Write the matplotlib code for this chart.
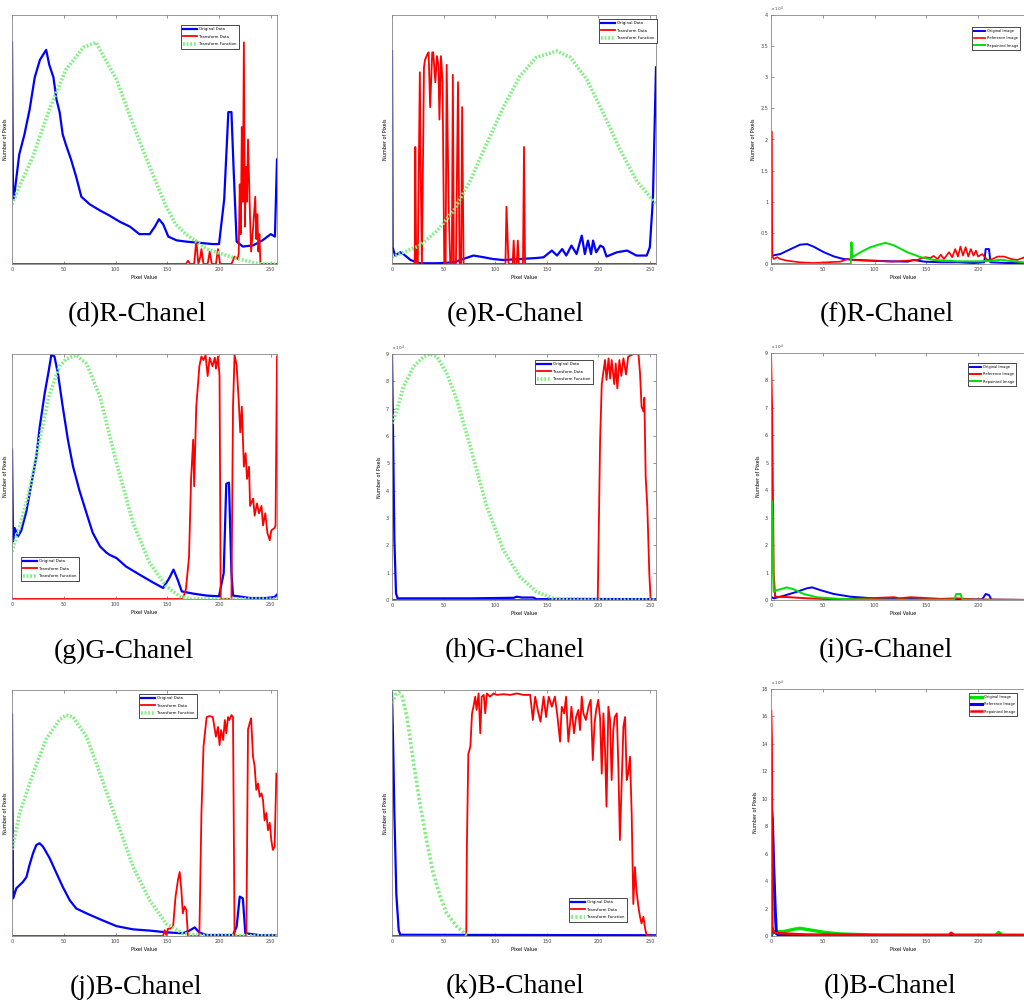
import matplotlib.pyplot as plt

# ---- (d) R-Chanel, normalised height ----
d_blue_x = [0, 1, 2, 7, 12, 17, 22, 27, 30, 33, 36, 40, 43, 46, 49, 52, 57, 62, 67, 75, 85, 94, 104, 114, 123, 133, 138, 142, 146, 151, 159, 168, 181, 194, 200, 205, 209, 212, 214, 217, 223, 233, 242, 250, 254, 256]
d_blue_y = [0.89, 0.26, 0.27, 0.44, 0.52, 0.62, 0.75, 0.82, 0.84, 0.86, 0.80, 0.75, 0.66, 0.61, 0.52, 0.48, 0.42, 0.35, 0.27, 0.24, 0.215, 0.195, 0.17, 0.15, 0.12, 0.12, 0.15, 0.18, 0.16, 0.11, 0.095, 0.09, 0.085, 0.08, 0.08, 0.26, 0.61, 0.61, 0.39, 0.09, 0.07, 0.075, 0.095, 0.12, 0.11, 0.42]
d_red_x = [0, 168, 170, 172, 176, 178, 180, 182, 183, 185, 189, 191, 193, 197, 199, 201, 212, 215, 218, 219, 220, 221, 222, 223, 224, 225, 226, 227, 228, 230, 231, 233, 235, 236, 237, 238, 239, 240, 256]
d_red_y = [0, 0, 0.013, 0, 0, 0.095, 0, 0.03, 0.06, 0, 0, 0.05, 0, 0, 0.06, 0, 0, 0.03, 0.02, 0.04, 0.32, 0.12, 0.55, 0.25, 0.89, 0.15, 0.39, 0.25, 0.5, 0.18, 0.05, 0.15, 0.27, 0.1, 0.2, 0.05, 0.12, 0, 0]
d_green_x = [0, 7, 20, 36, 52, 69, 81, 101, 117, 133, 149, 158, 168, 188, 213, 239, 256]
d_green_y = [0.24, 0.31, 0.43, 0.62, 0.78, 0.87, 0.89, 0.74, 0.56, 0.39, 0.23, 0.16, 0.12, 0.06, 0.027, 0.0, 0.0]

# ---- (e) R-Chanel ----
e_blue_x = [0, 0.6, 3, 8, 11, 18, 27, 44, 60, 69, 79, 89, 98, 108, 124, 140, 147, 155, 160, 165, 169, 174, 179, 184, 187, 190, 193, 195, 198, 202, 205, 208, 218, 228, 237, 247, 250, 253, 256]
e_blue_y = [0.855, 0.067, 0.034, 0.047, 0.04, 0.016, 0.003, 0.003, 0.007, 0.02, 0.034, 0.027, 0.02, 0.016, 0.02, 0.024, 0.027, 0.054, 0.034, 0.06, 0.034, 0.074, 0.04, 0.114, 0.04, 0.094, 0.04, 0.094, 0.047, 0.074, 0.067, 0.03, 0.047, 0.054, 0.034, 0.034, 0.067, 0.26, 0.79]
e_red_x = [0, 22, 22.6, 23.5, 25, 27, 28, 29, 31, 32, 34, 35.5, 37, 39, 40, 42, 43.6, 45, 46, 47.5, 49, 50.7, 52, 53, 55, 56.5, 58, 59, 60, 62, 64, 65.5, 67, 68, 69.4, 110, 111, 113, 117, 118, 119, 121, 122, 123, 127, 128, 129, 256]
e_red_y = [0, 0, 0.47, 0, 0, 0.77, 0.31, 0, 0.79, 0.82, 0.84, 0.85, 0.63, 0.85, 0.85, 0.73, 0.835, 0.80, 0.58, 0.835, 0.73, 0, 0, 0.80, 0.215, 0, 0, 0.76, 0, 0, 0.73, 0, 0, 0.63, 0, 0, 0.23, 0, 0, 0.094, 0, 0, 0.094, 0, 0, 0.47, 0, 0]
e_green_x = [0, 11, 27, 44, 60, 76, 92, 108, 124, 140, 160, 173, 189, 205, 221, 237, 256]
e_green_y = [0.027, 0.047, 0.074, 0.135, 0.215, 0.336, 0.485, 0.63, 0.754, 0.83, 0.855, 0.83, 0.74, 0.605, 0.46, 0.336, 0.24]

# ---- (f) R-Chanel, x10^4 ----
f_blue_x = [0, 1, 9, 19, 28, 35, 41, 51, 61, 70, 83, 99, 116, 132, 138, 148, 164, 180, 196, 206, 207.4, 210.6, 212, 228, 245, 256]
f_blue_y = [0.108, 0.135, 0.16, 0.24, 0.31, 0.32, 0.28, 0.19, 0.12, 0.08, 0.065, 0.054, 0.043, 0.038, 0.065, 0.038, 0.027, 0.027, 0.016, 0.027, 0.24, 0.24, 0.027, 0.016, 0.016, 0.016]
f_red_x = [0, 0.5, 1.3, 2.6, 6, 9, 15.5, 28, 41, 54, 67, 74, 80, 89.7, 99, 116, 132, 141, 149, 154, 157, 161, 164, 167, 172, 175, 178, 180.6, 183, 185.5, 188, 190.6, 193, 195.6, 198, 200, 204, 209, 214, 219, 225, 232, 238, 245, 256]
f_red_y = [0, 2.13, 0.13, 0.08, 0.11, 0.08, 0.054, 0.027, 0.016, 0.027, 0.038, 0.08, 0.065, 0.054, 0.05, 0.038, 0.054, 0.065, 0.11, 0.097, 0.13, 0.08, 0.15, 0.08, 0.19, 0.108, 0.24, 0.119, 0.28, 0.135, 0.27, 0.119, 0.24, 0.135, 0.215, 0.119, 0.16, 0.065, 0.08, 0.12, 0.12, 0.08, 0.065, 0.11, 0.1]
f_green_x = [0, 77, 77.7, 78.7, 86.5, 96, 106, 110.6, 118.7, 131.6, 144.5, 157, 180, 202.6, 215.5, 222, 228, 244.5, 256]
f_green_y = [0, 0, 0.35, 0.11, 0.19, 0.27, 0.32, 0.34, 0.30, 0.19, 0.11, 0.065, 0.043, 0.043, 0.054, 0.07, 0.054, 0.027, 0.02]

# ---- (g) G-Chanel ----
g_blue_x = [0, 1, 2.6, 5.8, 9, 14, 18.7, 23.5, 26.7, 31.6, 35, 38, 41, 44.4, 49, 54, 59, 65, 72, 78, 85, 91, 94.4, 101, 110, 123, 136, 146, 152, 156, 160, 164, 175, 188, 200, 204.5, 207, 209.6, 212, 213.5, 230, 245.7, 253.7, 256]
g_blue_y = [0.61, 0.235, 0.29, 0.255, 0.28, 0.36, 0.47, 0.58, 0.70, 0.84, 0.92, 0.996, 0.99, 0.92, 0.785, 0.65, 0.54, 0.445, 0.35, 0.27, 0.215, 0.19, 0.18, 0.167, 0.133, 0.10, 0.068, 0.045, 0.086, 0.12, 0.079, 0.031, 0.022, 0.014, 0.011, 0.106, 0.47, 0.475, 0.106, 0.014, 0.004, 0.004, 0.008, 0.018]
g_red_x = [0, 165, 168, 171, 173, 175, 176, 178, 180, 181, 183, 185, 187, 189, 191, 193.6, 196, 197, 199, 200.5, 201.6, 212, 213.5, 215, 217, 219, 220.5, 222, 224, 225.7, 227, 229, 230, 233, 234.4, 236.7, 238.6, 241, 242.5, 244.7, 246.7, 249, 250.5, 253.7, 254.6, 256]
g_red_y = [0, 0, 0.04, 0.17, 0.49, 0.65, 0.46, 0.785, 0.894, 0.95, 0.99, 0.975, 0.995, 0.91, 0.985, 0.95, 0.985, 0.94, 0.99, 0.91, 0, 0, 0.785, 0.995, 0.955, 0.81, 0.68, 0.785, 0.54, 0.595, 0.49, 0.54, 0.38, 0.41, 0.34, 0.39, 0.35, 0.38, 0.30, 0.35, 0.27, 0.24, 0.28, 0.29, 0.30, 0.99]
g_green_x = [0, 7.4, 17, 26.7, 36, 46, 52.5, 62, 72, 85, 101, 117, 133, 149, 162, 173, 256]
g_green_y = [0.194, 0.296, 0.445, 0.65, 0.833, 0.95, 0.98, 0.996, 0.96, 0.826, 0.554, 0.31, 0.147, 0.052, 0.011, 0.0, 0.0]

# ---- (h) G-Chanel, x10^4 ----
h_blue_x = [0, 1, 2.3, 3.9, 5.5, 27, 76, 118, 121, 126, 137, 140, 173, 256]
h_blue_y = [9.0, 6.1, 2.2, 0.24, 0.06, 0.06, 0.06, 0.08, 0.12, 0.09, 0.09, 0.03, 0.04, 0.03]
h_red_x = [0, 199.5, 201.8, 203.4, 205, 206.6, 208, 210, 211.5, 213, 215.5, 217, 218.5, 220.5, 222.4, 224.4, 227, 229, 234, 239, 240.5, 242, 243.8, 244.7, 246, 247.6, 249.5, 250.8, 256]
h_red_y = [0, 0, 5.85, 7.9, 8.35, 8.78, 8.05, 8.84, 8.1, 8.78, 7.9, 8.65, 7.74, 8.78, 8.2, 8.84, 8.25, 8.9, 9.0, 9.0, 8.3, 7.07, 6.9, 7.4, 4.5, 3.4, 0.98, 0.0, 0.0]
h_green_x = [0, 4.8, 11, 21, 30.7, 37, 43.6, 53, 63, 76, 92, 108, 124, 140, 156.6, 173, 256]
h_green_y = [6.46, 6.95, 7.8, 8.54, 8.9, 9.0, 8.9, 8.3, 7.3, 5.6, 3.4, 1.83, 0.85, 0.30, 0.06, 0.0, 0.0]

# ---- (i) G-Chanel, x10^4 ----
i_blue_x = [0, 2.6, 12, 25, 35, 39.7, 47.7, 60.6, 76.8, 99, 131.6, 196, 204, 207.4, 210.6, 213, 256]
i_blue_y = [0.12, 0.06, 0.15, 0.3, 0.43, 0.46, 0.36, 0.22, 0.12, 0.06, 0.04, 0.02, 0.02, 0.22, 0.18, 0.01, 0.0]
i_red_x = [0, 1, 2.6, 4, 18.7, 35, 67, 119, 124, 135, 164, 180, 196, 256]
i_red_y = [9.0, 7.05, 0.97, 0.12, 0.1, 0.06, 0.02, 0.1, 0.06, 0.1, 0.04, 0.06, 0.02, 0.0]
i_green_x = [0, 1, 2.6, 5.8, 15.5, 22, 31.6, 44.5, 67, 99, 177, 179, 183, 185, 256]
i_green_y = [0.0, 3.6, 0.3, 0.36, 0.46, 0.39, 0.22, 0.1, 0.04, 0.01, 0.01, 0.22, 0.22, 0.01, 0.0]

# ---- (j) B-Chanel ----
j_blue_x = [0, 1, 2.6, 4.2, 10.6, 14, 17, 20.3, 23.5, 26.7, 30, 36.4, 43, 49, 55.7, 62, 72, 85, 101, 117, 133, 149, 165, 171.5, 176.5, 181, 188, 213.5, 217, 220, 223, 225.4, 240, 256]
j_blue_y = [0.90, 0.153, 0.173, 0.194, 0.22, 0.24, 0.29, 0.336, 0.37, 0.377, 0.363, 0.316, 0.255, 0.20, 0.146, 0.112, 0.092, 0.068, 0.04, 0.027, 0.022, 0.015, 0.011, 0.022, 0.035, 0.014, 0.004, 0.004, 0.038, 0.16, 0.153, 0.011, 0.003, 0.003]
j_red_x = [0, 146, 147.5, 149, 150.7, 153, 155.6, 158, 160.4, 162, 163.6, 165, 166.8, 168.4, 170, 181, 183, 185, 188, 191, 194, 197, 199, 200.5, 202, 204, 205.6, 207, 208.7, 210, 212, 213.5, 215, 226.4, 228, 229.6, 231, 232.8, 234.4, 236, 237.7, 239.3, 241, 242.5, 244, 245.7, 247.3, 249, 250.5, 252, 253.7, 255.4]
j_red_y = [0, 0, 0.024, 0.004, 0.03, 0.03, 0.038, 0.16, 0.23, 0.26, 0.187, 0.092, 0.12, 0.106, 0, 0, 0.5, 0.77, 0.89, 0.894, 0.89, 0.81, 0.85, 0.776, 0.837, 0.797, 0.878, 0.824, 0.89, 0.878, 0.898, 0.89, 0, 0, 0.84, 0.865, 0.885, 0.73, 0.69, 0.594, 0.62, 0.566, 0.58, 0.553, 0.47, 0.50, 0.43, 0.46, 0.39, 0.35, 0.363, 0.66]
j_green_x = [0, 7.4, 20.3, 33, 46, 52.5, 59, 72, 85, 101, 117, 133, 149, 165, 181, 256]
j_green_y = [0.35, 0.5, 0.66, 0.8, 0.88, 0.898, 0.89, 0.81, 0.66, 0.47, 0.28, 0.146, 0.05, 0.011, 0.003, 0.0]

# ---- (k) B-Chanel ----
k_blue_x = [0, 1, 2.3, 4.2, 6.5, 8, 256]
k_blue_y = [0.987, 0.80, 0.5, 0.17, 0.024, 0.005, 0.003]
k_red_x = [0, 72, 72.6, 74, 76, 77.6, 79, 80.7, 82, 84, 85.6, 87, 89, 90.4, 92, 95, 98.5, 101.7, 108, 114.6, 121, 127.5, 134, 136.6, 138.8, 142, 144, 147, 149.4, 152, 155, 158, 160.5, 163, 164.6, 167, 168.8, 171, 173, 174, 176.5, 178.5, 180.7, 182.3, 184, 185.6, 188, 190.5, 192.7, 194.7, 196.4, 198, 200, 201.8, 203.4, 205, 206.6, 208, 209.8, 211.4, 213, 214.6, 216, 218, 219.5, 221, 222.8, 224.4, 226, 227.6, 229, 230.8, 232.4, 234, 235.6, 237, 238.9, 240.5, 242, 243.8, 245.4, 247, 256]
k_red_y = [0, 0, 0.36, 0.74, 0.77, 0.905, 0.932, 0.973, 0.919, 0.986, 0.824, 0.973, 0.98, 0.905, 0.986, 0.973, 0.986, 0.98, 0.983, 0.98, 0.986, 0.98, 0.98, 0.878, 0.973, 0.905, 0.871, 0.973, 0.89, 0.973, 0.932, 0.973, 0.89, 0.79, 0.932, 0.905, 0.973, 0.79, 0.878, 0.932, 0.824, 0.89, 0.919, 0.837, 0.973, 0.905, 0.878, 0.932, 0.96, 0.715, 0.864, 0.919, 0.96, 0.885, 0.66, 0.905, 0.756, 0.526, 0.932, 0.878, 0.634, 0.837, 0.89, 0.905, 0.688, 0.39, 0.634, 0.851, 0.89, 0.634, 0.661, 0.729, 0.499, 0.13, 0.28, 0.186, 0.12, 0.078, 0.051, 0.078, 0.031, 0.003, 0.0]
k_green_x = [0, 3.2, 6.5, 9.7, 14.5, 21, 27.4, 34, 40, 46.8, 53, 63, 69.4, 72.6]
k_green_y = [0.946, 0.98, 0.99, 0.975, 0.89, 0.70, 0.53, 0.377, 0.255, 0.16, 0.092, 0.038, 0.014, 0.004]

# ---- (l) B-Chanel, x10^4 ----
l_green_x = [0, 2.6, 12, 22, 28, 38, 51, 67, 99, 140, 217, 220, 223.5, 256]
l_green_y = [0.0, 0.32, 0.32, 0.49, 0.56, 0.44, 0.27, 0.15, 0.07, 0.05, 0.05, 0.27, 0.05, 0.04]
l_blue_x = [0, 0.3, 1.3, 2.6, 4.2, 5.2, 7.4, 256]
l_blue_y = [0.0, 9.4, 8.5, 5.06, 1.65, 0.19, 0.05, 0.05]
l_red_x = [0, 0.6, 1.3, 2.6, 9, 35, 99, 172, 174, 177, 256]
l_red_y = [16.4, 14.3, 0.68, 0.24, 0.2, 0.1, 0.06, 0.06, 0.24, 0.06, 0.05]

W, H = 1024, 1001
fig = plt.figure(figsize=(W / 100, H / 100), dpi=100)
fig.patch.set_facecolor('white')

BLUE = '#0000ff'
RED = '#ff0000'
LGREEN = '#80ee80'
GREEN = '#00e000'


def make_ax(l, r, t, b, cut=False):
    ax = fig.add_axes([l / W, 1 - b / H, (r - l) / W, (b - t) / H])
    ax.set_xlim(0, 256)
    ax.set_xticks([0, 50, 100, 150, 200, 250])
    if cut:
        # the 250 label falls past the right edge of the page
        ax.set_xticklabels(['0', '50', '100', '150', '200', ''])
    ax.tick_params(direction='in', top=True, right=True, length=2, width=0.4,
                   labelsize=3.5, pad=2, colors='#444444')
    for s in ax.spines.values():
        s.set_linewidth(0.6)
        s.set_color('#888888')
    ax.set_xlabel('Pixel Value', fontsize=3.5, labelpad=2)
    ax.set_ylabel('Number of Pixels', fontsize=3.5, labelpad=3)
    return ax


def leg(ax, handles, labels, x, y, hl=3.6, fs=2.8):
    lg = ax.legend(handles, labels, loc='upper left', bbox_to_anchor=(x / W, 1 - y / H),
                   bbox_transform=fig.transFigure, fontsize=fs, fancybox=False,
                   edgecolor='black', framealpha=1, borderpad=0.6, handlelength=hl,
                   labelspacing=0.9, handletextpad=0.5, borderaxespad=0)
    lg.get_frame().set_linewidth(0.5)
    return lg


def transform_panel(ax, bx, by, rx, ry, gx, gy, lx, ly, gls=(0, (0.5, 0.5))):
    ax.set_ylim(0, 1)
    ax.set_yticks([])
    hb, = ax.plot(bx, by, color=BLUE, lw=1.6)
    hr, = ax.plot(rx, ry, color=RED, lw=1.3)
    hg, = ax.plot(gx, gy, color=LGREEN, lw=2.6, linestyle=gls)
    leg(ax, [hb, hr, hg], ['Original Data', 'Transform Data', 'Transform Function'], lx, ly)


def sci_ax(ax, top, step):
    ax.set_ylim(0, top)
    ticks = [v * step for v in range(int(round(top / step)) + 1)]
    ax.set_yticks(ticks)
    ax.set_yticklabels([('%g' % v) for v in ticks])
    ax.text(0.0, 1.005, r'x 10$^4$', transform=ax.transAxes, fontsize=3, va='bottom',
            ha='left', color='#444444')


# row 1
ax = make_ax(12, 277, 15, 264)
transform_panel(ax, d_blue_x, d_blue_y, d_red_x, d_red_y, d_green_x, d_green_y, 181, 25)

ax = make_ax(392, 656, 15, 264)
transform_panel(ax, e_blue_x, e_blue_y, e_red_x, e_red_y, e_green_x, e_green_y, 599, 19)

ax = make_ax(771, 1036, 15, 264, cut=True)
sci_ax(ax, 4, 0.5)
hb, = ax.plot(f_blue_x, f_blue_y, color=BLUE, lw=1.4)
hr, = ax.plot(f_red_x, f_red_y, color=RED, lw=1.2)
hg, = ax.plot(f_green_x, f_green_y, color=GREEN, lw=1.4)
leg(ax, [hb, hr, hg], ['Original Image', 'Reference Image', 'Repainted Image'], 972, 27, hl=3.0, fs=2.6)

# row 2
ax = make_ax(12, 277, 354, 599)
transform_panel(ax, g_blue_x, g_blue_y, g_red_x, g_red_y, g_green_x, g_green_y, 21, 557)

ax = make_ax(392, 656, 354, 600)
sci_ax(ax, 9, 1)
hb, = ax.plot(h_blue_x, h_blue_y, color=BLUE, lw=1.6)
hr, = ax.plot(h_red_x, h_red_y, color=RED, lw=1.3)
hg, = ax.plot(h_green_x, h_green_y, color=LGREEN, lw=2.6, linestyle=(0, (0.5, 0.5)))
leg(ax, [hb, hr, hg], ['Original Data', 'Transform Data', 'Transform Function'], 535, 360)

ax = make_ax(771, 1036, 353, 600, cut=True)
sci_ax(ax, 9, 1)
hb, = ax.plot(i_blue_x, i_blue_y, color=BLUE, lw=1.4)
hr, = ax.plot(i_red_x, i_red_y, color=RED, lw=1.4)
hg, = ax.plot(i_green_x, i_green_y, color=GREEN, lw=1.4)
leg(ax, [hb, hr, hg], ['Original Image', 'Reference Image', 'Repainted Image'], 968, 363, hl=3.0, fs=2.6)

# row 3
ax = make_ax(12, 277, 690, 936)
transform_panel(ax, j_blue_x, j_blue_y, j_red_x, j_red_y, j_green_x, j_green_y, 139, 694)

ax = make_ax(392, 656, 690, 936)
transform_panel(ax, k_blue_x, k_blue_y, k_red_x, k_red_y, k_green_x, k_green_y, 569, 898,
                gls=(0, (0.6, 0.6)))

ax = make_ax(771, 1036, 689, 936, cut=True)
sci_ax(ax, 18, 2)
hg, = ax.plot(l_green_x, l_green_y, color=GREEN, lw=2.4)
hb, = ax.plot(l_blue_x, l_blue_y, color=BLUE, lw=2.2)
hr, = ax.plot(l_red_x, l_red_y, color=RED, lw=1.8)
leg(ax, [hg, hb, hr], ['Original Image', 'Reference Image', 'Repainted Image'], 969, 693, hl=3.0, fs=2.6)

# captions
captions = ['(d)R-Chanel', '(e)R-Chanel', '(f)R-Chanel',
            '(g)G-Chanel', '(h)G-Chanel', '(i)G-Chanel',
            '(j)B-Chanel', '(k)B-Chanel', '(l)B-Chanel']
cap_x = [137, 515, 887, 124, 515, 886, 136, 515, 890]
cap_y = [315, 315, 315, 651, 651, 651, 987, 987, 987]
for c, cx, cy in zip(captions, cap_x, cap_y):
    fig.text(cx / W, 1 - cy / H, c, fontsize=20, family='Liberation Serif',
             ha='center', va='center')

fig.savefig('out.png', dpi=100)
